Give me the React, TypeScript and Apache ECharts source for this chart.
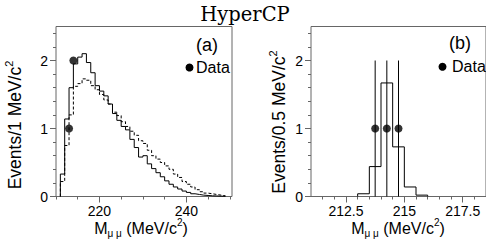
import React, { useEffect, useRef } from 'react';
import * as echarts from 'echarts';

// ---- Panel (a): 1 MeV bins starting at 211 MeV ----
const binStartA = 211;
const binWidthA = 1;
const solidA = [0.33, 1.14, 1.6, 1.95, 2.05, 2.1, 1.97, 1.82, 1.63, 1.55, 1.48, 1.36, 1.22, 1.12, 1.03, 0.98, 0.84, 0.72, 0.58, 0.6, 0.48, 0.41, 0.35, 0.29, 0.23, 0.18, 0.14, 0.11, 0.08, 0.06, 0.04, 0.03, 0.02, 0.015, 0.01, 0.008, 0.005, 0.003];
const dashedA = [0.22, 0.75, 1.2, 1.62, 1.66, 1.73, 1.71, 1.63, 1.57, 1.5, 1.42, 1.36, 1.24, 1.19, 1.1, 1.03, 0.96, 0.9, 0.82, 0.78, 0.68, 0.6, 0.55, 0.5, 0.45, 0.4, 0.33, 0.28, 0.22, 0.18, 0.14, 0.1, 0.07, 0.05, 0.04, 0.03, 0.02, 0.01];
const dataAx = [213, 214];
const dataAy = [1, 2];

// ---- Panel (b): 0.5 MeV bins starting at 213 MeV ----
const binStartB = 213;
const binWidthB = 0.5;
const solidB = [0.04, 0.44, 1.67, 0.73, 0.14, 0.02];
const dataBx = [213.75, 214.25, 214.75];
const dataBy = [1, 1, 1];
const dataBlo = [0, 0, 0];
const dataBhi = [2, 2, 2];

// ---- Ticks ----
const yMajor = [0, 1, 2];
const yMinor = [0.2, 0.4, 0.6, 0.8, 1.2, 1.4, 1.6, 1.8, 2.2, 2.4];
const xMajorA = [220, 240];
const xMinorA = [210, 215, 225, 230, 235, 245, 250];
const xMajorB = [212.5, 215, 217.5];
const xMinorB = [211.5, 212, 213, 213.5, 214, 214.5, 215.5, 216, 216.5, 217, 218, 218.5];

function stairs(start: number, w: number, vals: number[]) {
  const pts: number[][] = [[start, 0]];
  vals.forEach((v, i) => {
    pts.push([start + i * w, v]);
    pts.push([start + (i + 1) * w, v]);
  });
  pts.push([start + vals.length * w, 0]);
  return pts;
}

const FRAME = '#666';
const SANS = 'Liberation Sans, Arial, sans-serif';

function xAxes(grid: number, min: number, max: number, major: number[], minor: number[]) {
  return [
    {
      type: 'value', gridIndex: grid, min, max,
      axisLine: { show: false }, splitLine: { show: false },
      axisTick: { show: true, customValues: major, length: 6, lineStyle: { color: FRAME } },
      axisLabel: { customValues: major, fontSize: 14, color: '#000', fontFamily: SANS, margin: 7 },
    },
    {
      type: 'value', gridIndex: grid, min, max, position: 'bottom',
      axisLine: { show: false }, splitLine: { show: false },
      axisTick: { show: true, customValues: minor, length: 3, lineStyle: { color: FRAME } },
      axisLabel: { show: false },
    },
  ];
}

function yAxes(grid: number) {
  return [
    {
      type: 'value', gridIndex: grid, min: 0, max: 2.5, position: 'left',
      axisLine: { show: false }, splitLine: { show: false },
      axisTick: { show: true, customValues: yMajor, length: 6, lineStyle: { color: FRAME } },
      axisLabel: { customValues: yMajor, fontSize: 14, color: '#000', fontFamily: SANS, margin: 8 },
    },
    {
      type: 'value', gridIndex: grid, min: 0, max: 2.5, position: 'left', offset: 0,
      axisLine: { show: false }, splitLine: { show: false },
      axisTick: { show: true, customValues: yMinor, length: 3, lineStyle: { color: FRAME } },
      axisLabel: { show: false },
    },
  ];
}

function makeRich(lh: number, small: number) {
  return {
    sub: { fontSize: small, fontFamily: SANS, verticalAlign: 'bottom', lineHeight: lh },
    sup: { fontSize: small, fontFamily: SANS, verticalAlign: 'top', lineHeight: lh },
  };
}

function txt(x: number, y: number, text: string, fontSize: number, extra: any = {}) {
  const lh = Math.round(fontSize * 1.3);
  const { style, ...rest } = extra;
  return {
    type: 'text', x, y, silent: true, ...rest,
    style: {
      text, fontSize, fontFamily: SANS, fill: '#000', align: 'center', verticalAlign: 'middle',
      lineHeight: lh, rich: makeRich(lh, Math.round(fontSize * 0.65)), ...(style || {}),
    },
  };
}

export default function App() {
  const ref = useRef<HTMLDivElement>(null);
  useEffect(() => {
    document.body.style.margin = '0';
    if (!ref.current) return;
    const chart = echarts.init(ref.current, null, { renderer: 'svg' });
    const errData = dataBx.map((x, i) => [x, dataBlo[i], dataBhi[i]]);
    chart.setOption({
      animation: false,
      grid: [
        { left: 56, top: 26.5, width: 176, height: 170, show: true, borderColor: FRAME, borderWidth: 1 },
        { left: 311, top: 26.5, width: 175.5, height: 170, show: true, borderColor: FRAME, borderWidth: 1 },
      ],
      xAxis: [...xAxes(0, 210, 250.5, xMajorA, xMinorA), ...xAxes(1, 211, 218.5, xMajorB, xMinorB)],
      yAxis: [...yAxes(0), ...yAxes(1)],
      series: [
        {
          type: 'line', xAxisIndex: 0, yAxisIndex: 0, data: stairs(binStartA, binWidthA, dashedA),
          showSymbol: false, lineStyle: { color: '#000', width: 1, type: [3, 2] }, silent: true,
        },
        {
          type: 'line', xAxisIndex: 0, yAxisIndex: 0, data: stairs(binStartA, binWidthA, solidA),
          showSymbol: false, lineStyle: { color: '#000', width: 1 }, silent: true,
        },
        {
          type: 'scatter', xAxisIndex: 0, yAxisIndex: 0, data: dataAx.map((x, i) => [x, dataAy[i]]),
          symbolSize: 8, itemStyle: { color: '#000' }, silent: true,
        },
        {
          type: 'line', xAxisIndex: 2, yAxisIndex: 2, data: stairs(binStartB, binWidthB, solidB),
          showSymbol: false, lineStyle: { color: '#000', width: 1 }, silent: true,
        },
        {
          type: 'custom', xAxisIndex: 2, yAxisIndex: 2, data: errData, silent: true,
          renderItem: (params: any, api: any) => {
            const lo = api.coord([api.value(0), api.value(1)]);
            const hi = api.coord([api.value(0), api.value(2)]);
            return {
              type: 'line',
              shape: { x1: lo[0], y1: lo[1], x2: hi[0], y2: hi[1] },
              style: { stroke: '#000', lineWidth: 1 },
            };
          },
        },
        {
          type: 'scatter', xAxisIndex: 2, yAxisIndex: 2, data: dataBx.map((x, i) => [x, dataBy[i]]),
          symbolSize: 8, itemStyle: { color: '#000' }, silent: true,
        },
      ],
      graphic: [
        {
          type: 'text', x: 245, y: 14, silent: true,
          style: { text: 'HyperCP', fontSize: 19.5, fontFamily: 'DejaVu Serif, serif', fill: '#000', align: 'center', verticalAlign: 'middle' },
        },
        txt(207, 45, '(a)', 18),
        { type: 'circle', shape: { cx: 189.5, cy: 67.5, r: 4 }, style: { fill: '#000' }, silent: true },
        txt(196, 67.5, 'Data', 16, { style: { align: 'left' } }),
        txt(460, 43, '(b)', 18),
        { type: 'circle', shape: { cx: 442.5, cy: 66.7, r: 4 }, style: { fill: '#000' }, silent: true },
        txt(452, 66.7, 'Data', 16, { style: { align: 'left' } }),
        txt(15, 125, 'Events/1 MeV/c{sup|2}', 17.5, { rotation: Math.PI / 2 }),
        txt(279, 122, 'Events/0.5 MeV/c{sup|2}', 17.5, { rotation: Math.PI / 2 }),
        txt(141, 228, 'M{sub|μ μ} (MeV/c{sup|2})', 16),
        txt(398, 228, 'M{sub|μ μ} (MeV/c{sup|2})', 16),
      ],
    });
    return () => chart.dispose();
  }, []);
  return <div ref={ref} style={{ width: 486, height: 241 }} />;
}
